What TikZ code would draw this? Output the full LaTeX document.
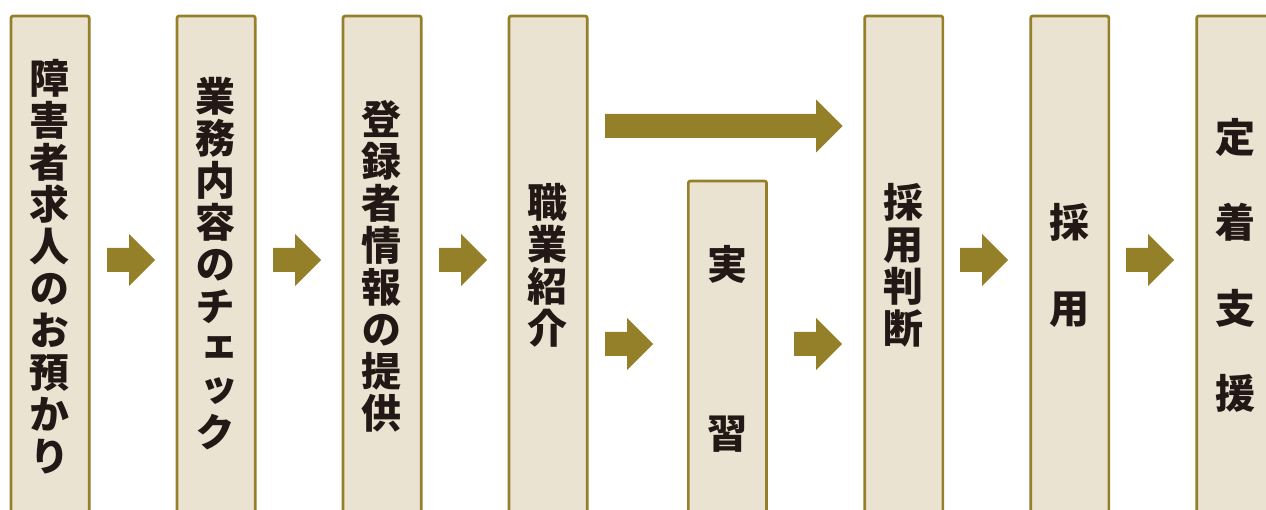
\documentclass[tikz,border=0pt]{standalone}
\usepackage{fontspec}
\newfontfamily\jp[RawFeature=+vert]{Noto Sans CJK JP}
\definecolor{olivec}{HTML}{95802A}
\definecolor{beige}{HTML}{EAE3D1}
\definecolor{inkc}{HTML}{231815}
\tikzset{
  colbox/.style={draw=olivec, fill=beige, line width=2.7pt, rounded corners=2pt,
    anchor=north west, minimum width=78.2pt, minimum height=600pt, inner sep=0pt},
  lbl/.style={font=\jp\bfseries\fontsize{40}{42}\selectfont, text=inkc, align=center, inner sep=0pt},
  blockarrow/.pic={\fill[olivec] (0,-12) -- (22,-12) -- (22,-26) -- (48,0) -- (22,26) -- (22,12) -- (0,12) -- cycle;}
}
\begin{document}
\begin{tikzpicture}[x=1pt,y=-1pt]
\useasboundingbox (0,0) rectangle (1266,510);
\clip (0,0) rectangle (1266,510);
% columns
\node[colbox] (b1) at (9.7,14.7) {};
\node[colbox] (b2) at (175.7,14.7) {};
\node[colbox] (b3) at (341.7,14.7) {};
\node[colbox] (b4) at (507.7,14.7) {};
\node[colbox] (b5) at (687.0,179.7) {};
\node[colbox] (b6) at (863.3,14.7) {};
\node[colbox] (b7) at (1029.3,14.7) {};
\node[colbox] (b8) at (1195.3,14.7) {};
% labels
\node[lbl] (t1) at (49.3,267) {障\\害\\者\\求\\人\\の\\お\\預\\か\\り};
\node[lbl] (t2) at (215.3,264) {業\\務\\内\\容\\の\\チ\\ェ\\ッ\\ク};
\node[lbl] (t3) at (381.3,266) {登\\録\\者\\情\\報\\の\\提\\供};
\node[lbl] (t4) at (547.3,265) {職\\業\\紹\\介};
\node[lbl] (t5a) at (727.0,264) {実};
\node[lbl] (t5b) at (727.0,434) {習};
\node[lbl] (t6) at (903.0,265) {採\\用\\判\\断};
\node[lbl, font=\jp\bfseries\fontsize{40}{86}\selectfont] (t7) at (1069.0,265.5) {採\\用};
\node[lbl, font=\jp\bfseries\fontsize{40}{85.3}\selectfont] (t8) at (1235.0,265.5) {定\\着\\支\\援};
% arrows
\pic at (107,260) {blockarrow};
\pic at (273,260) {blockarrow};
\pic at (439,260) {blockarrow};
\pic at (605,344) {blockarrow};
\pic at (794,344) {blockarrow};
\pic at (960,260) {blockarrow};
\pic at (1126,260) {blockarrow};
\fill[olivec] (605,114) -- (816,114) -- (816,99.5) -- (842.5,126) -- (816,152.5) -- (816,138) -- (605,138) -- cycle;
\end{tikzpicture}
\end{document}
